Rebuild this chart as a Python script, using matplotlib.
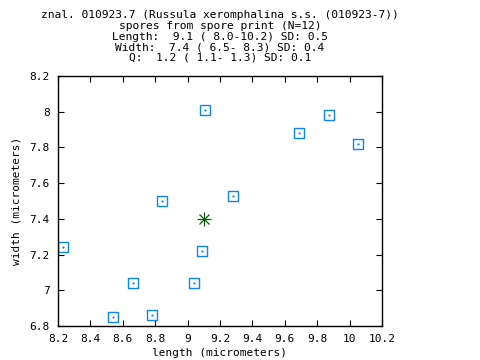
import matplotlib
matplotlib.use("Agg")
import matplotlib.pyplot as plt

# spore measurements (micrometers)
length = [8.231, 8.540, 8.663, 8.783, 8.844, 9.040, 9.089, 9.107, 9.280, 9.686, 9.872, 10.052]
width = [7.240, 6.849, 7.039, 6.860, 7.498, 7.039, 7.218, 8.008, 7.527, 7.880, 7.980, 7.817]
mean_length = 9.1
mean_width = 7.4

title_lines = [
    "znal. 010923.7 (Russula xeromphalina s.s. (010923-7))",
    "spores from spore print (N=12)",
    "Length:  9.1 ( 8.0-10.2) SD: 0.5",
    "Width:  7.4 ( 6.5- 8.3) SD: 0.4",
    "Q:  1.2 ( 1.1- 1.3) SD: 0.1",
]

xticks = [8.2, 8.4, 8.6, 8.8, 9, 9.2, 9.4, 9.6, 9.8, 10, 10.2]
xtick_labels = ["8.2", "8.4", "8.6", "8.8", "9", "9.2", "9.4", "9.6", "9.8", "10", "10.2"]
yticks = [6.8, 7, 7.2, 7.4, 7.6, 7.8, 8, 8.2]
ytick_labels = ["6.8", "7", "7.2", "7.4", "7.6", "7.8", "8", "8.2"]

plt.rcParams["font.family"] = "DejaVu Sans Mono"

fig = plt.figure(figsize=(4.8, 3.6), dpi=100)
ax = fig.add_axes([58 / 480, 34 / 360, 324 / 480, 250 / 360])

# spores
ax.plot(length, width, linestyle="none", marker="s", markersize=7.4,
        markerfacecolor="none", markeredgecolor="#0a84ff", markeredgewidth=1.0)
ax.plot(length, width, linestyle="none", marker=".", markersize=1.2,
        color="#0a84ff")

# mean
ax.plot([mean_length], [mean_width], linestyle="none", marker="+",
        markersize=10, markeredgecolor="#006400", markeredgewidth=0.9)
ax.plot([mean_length], [mean_width], linestyle="none", marker="x",
        markersize=7, markeredgecolor="#006400", markeredgewidth=0.9)

ax.set_xlim(8.2, 10.2)
ax.set_ylim(6.8, 8.2)
ax.set_xticks(xticks)
ax.set_xticklabels(xtick_labels)
ax.set_yticks(yticks)
ax.set_yticklabels(ytick_labels)
ax.tick_params(direction="in", length=4.3, width=0.8, top=True, right=True,
               labelsize=8, pad=6)
for s in ax.spines.values():
    s.set_linewidth(1.0)

ax.set_xlabel("length (micrometers)", fontsize=8, labelpad=3)
ax.set_ylabel("width (micrometers)", fontsize=8, labelpad=6)

y0 = 360 - 15.5
for i, line in enumerate(title_lines):
    fig.text(220 / 480, (y0 - i * 10.5) / 360, line, ha="center", va="center",
             fontsize=8.1)

fig.savefig("out.png", dpi=100)
